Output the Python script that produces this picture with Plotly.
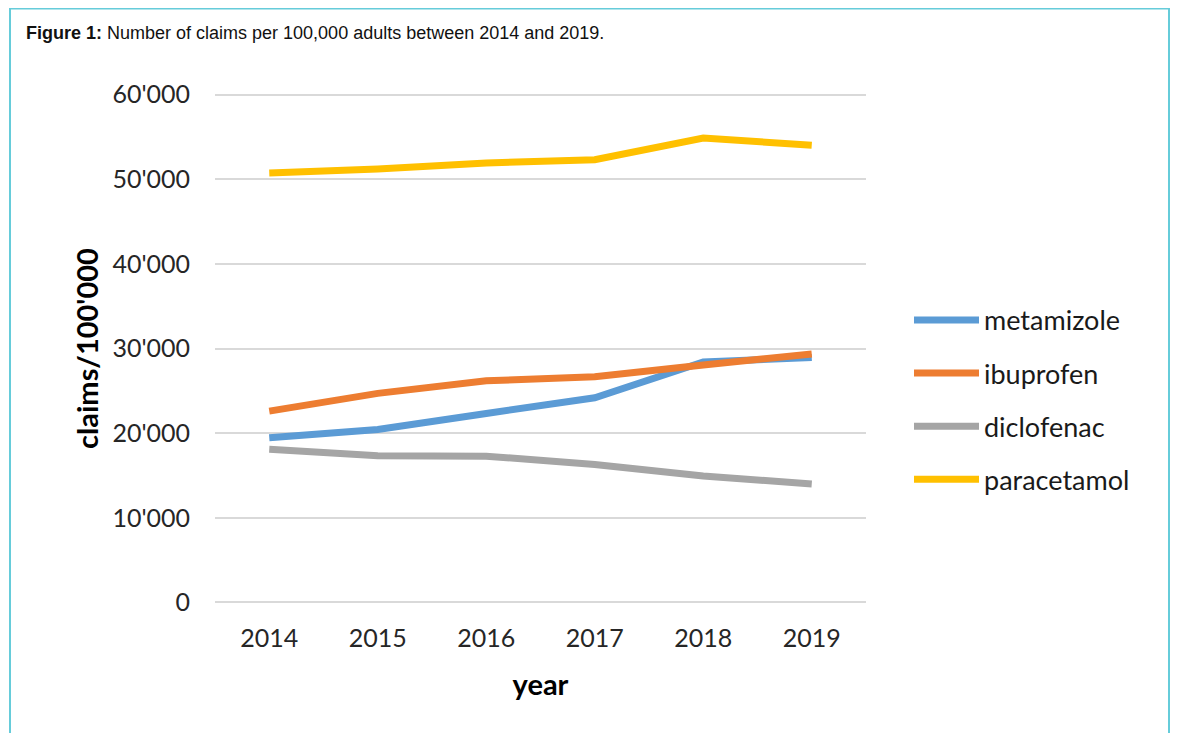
import plotly.graph_objects as go

years = [2014, 2015, 2016, 2017, 2018, 2019]
metamizole = [19450, 20430, 22330, 24180, 28400, 28950]
ibuprofen = [22600, 24700, 26190, 26660, 28050, 29350]
diclofenac = [18110, 17320, 17280, 16290, 14950, 14000]
paracetamol = [50730, 51200, 51910, 52300, 54870, 54000]

series_names = ["metamizole", "ibuprofen", "diclofenac", "paracetamol"]
series_values = [metamizole, ibuprofen, diclofenac, paracetamol]
series_colors = ["#5B9BD5", "#ED7D31", "#A5A5A5", "#FFC000"]

y_tickvals = [0, 10000, 20000, 30000, 40000, 50000, 60000]
y_ticktext = ["0", "10'000", "20'000", "30'000", "40'000", "50'000", "60'000"]

OFF = 8  # default page body margin
W, H = 1178 - 2 * OFF, 749 - 3 * OFF  # keep page free of scrollbars
PAD = 300  # small axis padding so edge gridlines are drawn
unit = (602 - 95) / 60000.0
L, R = 215 - OFF, 866 - OFF
T = 95 - OFF - PAD * unit
B = 602 - OFF + PAD * unit
pw, ph = R - L, B - T


def px(x):
    return (x - OFF - L) / pw


def py(y):
    return (B - (y - OFF)) / ph


fig = go.Figure()
for name, vals, col in zip(series_names, series_values, series_colors):
    fig.add_trace(go.Scatter(
        x=years, y=vals, name=name, mode="lines",
        line=dict(color=col, width=7), legendgroup=name,
    ))

fig.update_layout(
    width=W, height=H,
    margin=dict(l=L, r=W - R, t=T, b=H - B, pad=0, autoexpand=False),
    paper_bgcolor="white", plot_bgcolor="white",
    font=dict(family="Lato, Open Sans, sans-serif", color="#262626"),
    showlegend=True,
    legend=dict(
        x=px(909), y=py(296), xanchor="left", yanchor="top",
        font=dict(size=27, color="#1a1a1a"),
        itemwidth=65, tracegroupgap=15,
        bgcolor="rgba(0,0,0,0)",
    ),
    xaxis=dict(
        range=[2013.5, 2019.5], tickvals=years,
        ticktext=[str(y) for y in years],
        showgrid=False, zeroline=False, showline=False,
        tickfont=dict(size=25, color="#262626"),
        ticklabelstandoff=16,
        title=dict(text="<b>year</b>", font=dict(size=29, color="#000"), standoff=23),
    ),
    yaxis=dict(
        range=[-PAD, 60000 + PAD], tickvals=y_tickvals, ticktext=y_ticktext,
        showgrid=True, gridcolor="#D9D9D9", gridwidth=1.5,
        zeroline=False, showline=False,
        tickfont=dict(size=25, color="#262626"),
        ticklabelstandoff=24,
        title=dict(text="<b>claims/100'000</b>", font=dict(size=29, color="#000"), standoff=5),
    ),
    shapes=[dict(
        type="rect", xref="paper", yref="paper",
        x0=px(10), x1=px(1169), y0=py(770), y1=py(9),
        line=dict(color="#66CCDA", width=2), fillcolor="rgba(0,0,0,0)", layer="below",
    )],
    annotations=[dict(
        xref="paper", yref="paper", x=px(24), y=py(34),
        xanchor="left", yanchor="middle", showarrow=False,
        text="<b>Figure 1:</b> Number of claims per 100,000 adults between 2014 and 2019.",
        font=dict(family="Arial, Liberation Sans, sans-serif", size=18, color="#111"),
    )],
)

fig.write_html("out.html")
